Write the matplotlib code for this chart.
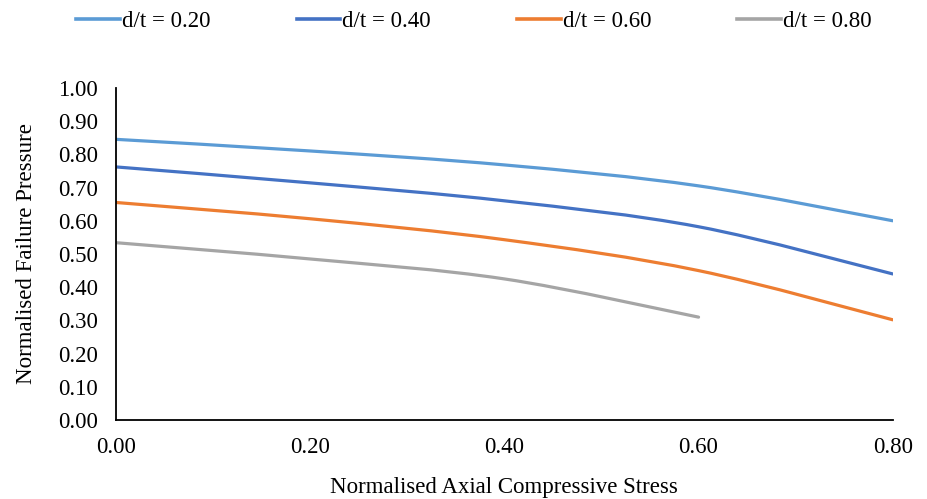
import matplotlib
matplotlib.use("Agg")
import matplotlib.pyplot as plt
from matplotlib.path import Path
from matplotlib.patches import PathPatch
from matplotlib.lines import Line2D

plt.rcParams['font.family'] = ['Liberation Serif', 'DejaVu Serif']

# ---- data ----
x_vals = [0.0, 0.2, 0.4, 0.6, 0.8]
x_vals_80 = [0.0, 0.2, 0.4, 0.6]
dt_020 = [0.845, 0.810, 0.768, 0.705, 0.600]
dt_040 = [0.762, 0.714, 0.660, 0.582, 0.440]
dt_060 = [0.655, 0.606, 0.543, 0.450, 0.302]
dt_080 = [0.534, 0.485, 0.425, 0.310]
labels = ["d/t = 0.20", "d/t = 0.40", "d/t = 0.60", "d/t = 0.80"]
colors = ["#5B9BD5", "#4472C4", "#ED7D31", "#A5A5A5"]
x_ticks = [0.0, 0.2, 0.4, 0.6, 0.8]
y_ticks = [0.0, 0.1, 0.2, 0.3, 0.4, 0.5, 0.6, 0.7, 0.8, 0.9, 1.0]

FS = 16.5


def smooth_path(xs, ys):
    """Catmull-Rom style Bezier path through data points (Excel smoothing)."""
    n = len(xs)
    verts = [(xs[0], ys[0])]
    codes = [Path.MOVETO]
    for i in range(n - 1):
        x0, y0 = (xs[i - 1], ys[i - 1]) if i > 0 else (xs[i], ys[i])
        x1, y1 = xs[i], ys[i]
        x2, y2 = xs[i + 1], ys[i + 1]
        x3, y3 = (xs[i + 2], ys[i + 2]) if i + 2 < n else (x2, y2)
        c1 = (x1 + (x2 - x0) / 6.0, y1 + (y2 - y0) / 6.0)
        c2 = (x2 - (x3 - x1) / 6.0, y2 - (y3 - y1) / 6.0)
        verts += [c1, c2, (x2, y2)]
        codes += [Path.CURVE4] * 3
    return Path(verts, codes)


fig = plt.figure(figsize=(9.28, 4.99), dpi=100)
ax = fig.add_axes([0.125, 0.158, 0.837, 0.666])

series = [(x_vals, dt_020), (x_vals, dt_040), (x_vals, dt_060), (x_vals_80, dt_080)]
handles = []
for (xs, ys), lab, col in zip(series, labels, colors):
    patch = PathPatch(smooth_path(xs, ys), facecolor='none', edgecolor=col,
                      lw=2.3, capstyle='round', joinstyle='round')
    ax.add_patch(patch)
    handles.append(Line2D([], [], color=col, lw=2.6, label=lab))

ax.set_xlim(0, 0.8)
ax.set_ylim(0, 1.0)
ax.set_xticks(x_ticks)
ax.set_yticks(y_ticks)
ax.set_xticklabels([f"{v:.2f}" for v in x_ticks])
ax.set_yticklabels([f"{v:.2f}" for v in y_ticks])
ax.tick_params(axis='both', length=0, labelsize=FS, colors='#000000')
ax.tick_params(axis='y', pad=13)
ax.tick_params(axis='x', pad=12)
for s in ['top', 'right']:
    ax.spines[s].set_visible(False)
for s in ['left', 'bottom']:
    ax.spines[s].set_color('black')
    ax.spines[s].set_linewidth(1.3)

ax.set_xlabel("Normalised Axial Compressive Stress", fontsize=FS, labelpad=14)
ax.set_ylabel("Normalised Failure Pressure", fontsize=FS, labelpad=15)

fig.legend(handles=handles, loc='upper left', bbox_to_anchor=(0.060, 1.02),
           ncol=4, frameon=False, fontsize=FS, handlelength=1.9,
           handletextpad=0.1, columnspacing=3.75)

fig.savefig("out.png", dpi=100)
